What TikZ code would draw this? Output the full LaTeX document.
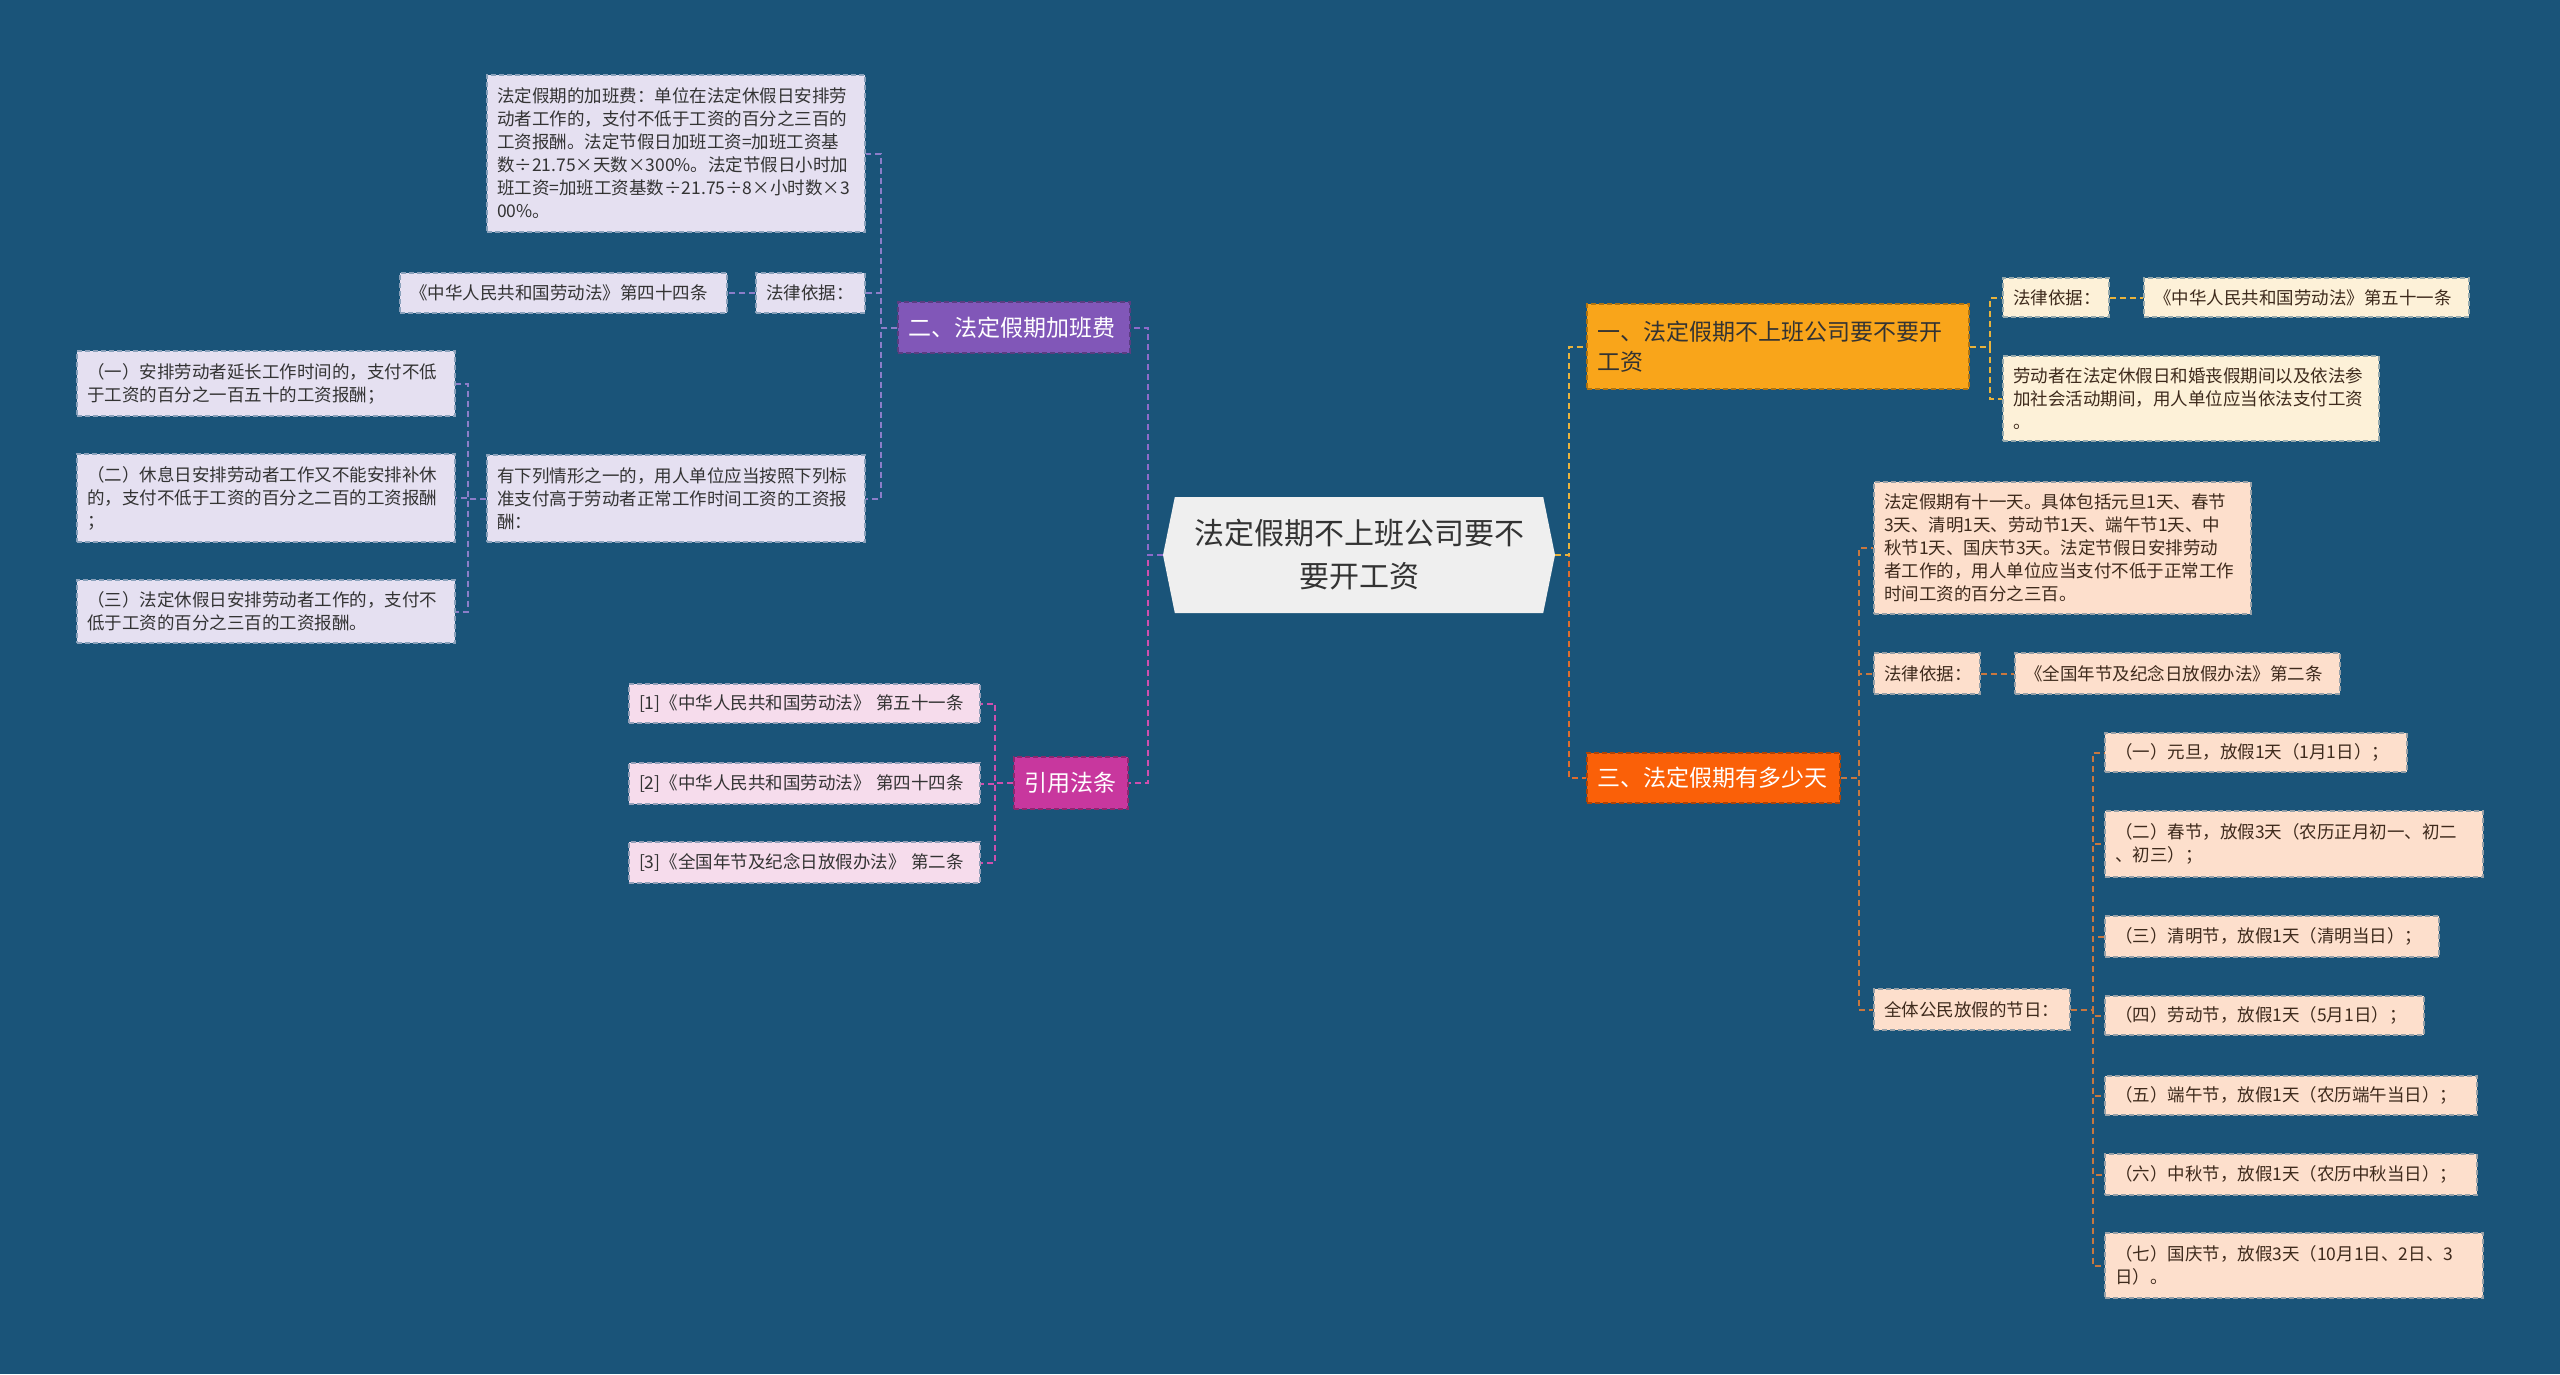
\documentclass[tikz,border=0pt]{standalone}
\usepackage{fontspec}
\setmainfont{Noto Sans CJK SC}
\usepackage{tikz}
\usetikzlibrary{shapes.symbols}
\usepackage{xcolor}
\definecolor{mmBg}{HTML}{1A5479}
\definecolor{mmLav}{HTML}{E5E0F1}
\definecolor{mmPink}{HTML}{F6DCEC}
\definecolor{mmCream}{HTML}{FDF1D8}
\definecolor{mmPeach}{HTML}{FDDFCC}
\definecolor{mmPurple}{HTML}{8157B8}
\definecolor{mmMagenta}{HTML}{C8379E}
\definecolor{mmOrange}{HTML}{F9A51A}
\definecolor{mmRed}{HTML}{FA6008}
\definecolor{mmCenter}{HTML}{EFEFEF}
\definecolor{mmInkL}{HTML}{333333}
\definecolor{mmInkR}{HTML}{3E2A1C}
\definecolor{mmLineP}{HTML}{8E6BCB}
\definecolor{mmLineL}{HTML}{8C7EC9}
\definecolor{mmLineM}{HTML}{CF4FAE}
\definecolor{mmLineY}{HTML}{E9B33C}
\definecolor{mmLineO}{HTML}{E06C2C}
\definecolor{mmLineB}{HTML}{C8773F}
\tikzset{
    % box styles
    leaf/.style={rectangle, draw=#1!55!mmBg, fill=#1, dashed, dash pattern=on 5pt off 3pt,
        line width=1.5pt, inner xsep=10pt, inner ysep=0pt, align=left,
        font=\fontsize{17.5}{23}\selectfont},
    lavleaf/.style={leaf=mmLav, text=mmInkL},
    pinkleaf/.style={leaf=mmPink, text=mmInkL},
    creamleaf/.style={leaf=mmCream, text=mmInkR},
    peachleaf/.style={leaf=mmPeach, text=mmInkR},
    branch/.style={rectangle, draw=#1!70!black, fill=#1, dashed, dash pattern=on 5pt off 3pt,
        line width=1.5pt, inner xsep=10pt, inner ysep=0pt, align=left, text=white,
        font=\fontsize{23}{30}\selectfont},
    % connector style
    link/.style={draw=#1, dashed, dash pattern=on 6pt off 4pt, line width=2pt}
}

\begin{document}
\begin{tikzpicture}[x=1pt,y=-1pt]
    \useasboundingbox (0,0) rectangle (2560,1374);
    \fill[mmBg] (0,0) rectangle (2560,1374);

    % Central topic
    \node[signal, signal to=west and east, signal pointer angle=157, fill=mmCenter,
        minimum width=392, minimum height=116, inner sep=0pt, align=center, text=mmInkL,
        font=\fontsize{30}{43}\selectfont] at (1359,555) (center) {法定假期不上班公司要不\\要开工资};

    % Left: overtime pay
    \node[branch=mmPurple, text width=212, minimum height=51] at (1014,327.5) (overpay) {二、法定假期加班费};
    \node[lavleaf, text width=358, minimum height=157] at (676,153.5) (overtime) {法定假期的加班费：单位在法定休假日安排劳\\动者工作的，支付不低于工资的百分之三百的\\工资报酬。法定节假日加班工资=加班工资基\\数÷21.75×天数×300\%。法定节假日小时加\\班工资=加班工资基数÷21.75÷8×小时数×3\\00\%。};
    \node[lavleaf, text width=89, minimum height=40] at (810.5,293) (basisL) {法律依据：};
    \node[lavleaf, text width=307, minimum height=40] at (563.5,293) (law44) {《中华人民共和国劳动法》第四十四条};
    \node[lavleaf, text width=358, minimum height=87] at (676,498.5) (cases) {有下列情形之一的，用人单位应当按照下列标\\准支付高于劳动者正常工作时间工资的工资报\\酬：};
    \node[lavleaf, text width=358, minimum height=65] at (266,383.5) (caseA) {（一）安排劳动者延长工作时间的，支付不低\\于工资的百分之一百五十的工资报酬；};
    \node[lavleaf, text width=358, minimum height=88] at (266,498) (caseB) {（二）休息日安排劳动者工作又不能安排补休\\的，支付不低于工资的百分之二百的工资报酬\\；};
    \node[lavleaf, text width=358, minimum height=63] at (266,611.5) (caseC) {（三）法定休假日安排劳动者工作的，支付不\\低于工资的百分之三百的工资报酬。};

    % Left: cited laws
    \node[branch=mmMagenta, text width=94, minimum height=52] at (1071,783) (refs) {引用法条};
    \node[pinkleaf, text width=331, minimum height=39] at (804.5,703.5) (refA) {[1]《中华人民共和国劳动法》 第五十一条};
    \node[pinkleaf, text width=331, minimum height=41] at (804.5,783.5) (refB) {[2]《中华人民共和国劳动法》 第四十四条};
    \node[pinkleaf, text width=331, minimum height=41] at (804.5,862.5) (refC) {[3]《全国年节及纪念日放假办法》 第二条};

    % Right: wages
    \node[branch=mmOrange, text=mmInkL, text width=362, minimum height=85] at (1778,346.5) (wages) {一、法定假期不上班公司要不要开\\工资};
    \node[creamleaf, text width=86, minimum height=39] at (2056,297.5) (basisR) {法律依据：};
    \node[creamleaf, text width=305, minimum height=39] at (2306.5,297.5) (law51) {《中华人民共和国劳动法》第五十一条};
    \node[creamleaf, text width=356, minimum height=85] at (2191,398.5) (wageNote) {劳动者在法定休假日和婚丧假期间以及依法参\\加社会活动期间，用人单位应当依法支付工资\\。};

    % Right: number of days
    \node[branch=mmRed, text width=233, minimum height=50] at (1713.5,778) (days) {三、法定假期有多少天};
    \node[peachleaf, text width=357, minimum height=132] at (2062.5,548) (daysNote) {法定假期有十一天。具体包括元旦1天、春节\\3天、清明1天、劳动节1天、端午节1天、中\\秋节1天、国庆节3天。法定节假日安排劳动\\者工作的，用人单位应当支付不低于正常工作\\时间工资的百分之三百。};
    \node[peachleaf, text width=86, minimum height=41] at (1927,673.5) (basisD) {法律依据：};
    \node[peachleaf, text width=305, minimum height=41] at (2177.5,673.5) (lawHol) {《全国年节及纪念日放假办法》第二条};
    \node[peachleaf, text width=176, minimum height=41] at (1972,1009.5) (holidays) {全体公民放假的节日：};
    \node[peachleaf, text width=282, minimum height=39] at (2256,752.5) (hol1) {（一）元旦，放假1天（1月1日）；};
    \node[peachleaf, text width=358, minimum height=66] at (2294,844) (hol2) {（二）春节，放假3天（农历正月初一、初二\\、初三）；};
    \node[peachleaf, text width=314, minimum height=41] at (2272,936.5) (hol3) {（三）清明节，放假1天（清明当日）；};
    \node[peachleaf, text width=299, minimum height=39] at (2264.5,1015.5) (hol4) {（四）劳动节，放假1天（5月1日）；};
    \node[peachleaf, text width=352, minimum height=39] at (2291,1095.5) (hol5) {（五）端午节，放假1天（农历端午当日）；};
    \node[peachleaf, text width=352, minimum height=41] at (2291,1174.5) (hol6) {（六）中秋节，放假1天（农历中秋当日）；};
    \node[peachleaf, text width=358, minimum height=65] at (2294,1265.5) (hol7) {（七）国庆节，放假3天（10月1日、2日、3\\日）。};

    % Connectors, left
    \draw[link=mmLineM] (center.west) -- ++(-15,0) |- (refs.east);
    \draw[link=mmLineP] (center.west) -- ++(-15,0) |- (overpay.east);
    \draw[link=mmLineL] (overpay.west) -- ++(-16,0) |- (overtime.east);
    \draw[link=mmLineL] (overpay.west) -- ++(-16,0) |- (basisL.east);
    \draw[link=mmLineL] (overpay.west) -- ++(-16,0) |- (cases.east);
    \draw[link=mmLineL] (basisL.west) -- (law44.east);
    \draw[link=mmLineL] (cases.west) -- ++(-18,0) |- (caseA.east);
    \draw[link=mmLineL] (cases.west) -- ++(-18,0) |- (caseB.east);
    \draw[link=mmLineL] (cases.west) -- ++(-18,0) |- (caseC.east);
    \draw[link=mmLineM] (refs.west) -- ++(-18,0) |- (refA.east);
    \draw[link=mmLineM] (refs.west) -- ++(-18,0) |- (refB.east);
    \draw[link=mmLineM] (refs.west) -- ++(-18,0) |- (refC.east);

    % Connectors, right
    \draw[link=mmLineO] (center.east) -- ++(14,0) |- (days.west);
    \draw[link=mmLineY] (center.east) -- ++(14,0) |- (wages.west);
    \draw[link=mmLineY] (wages.east) -- ++(20,0) |- (basisR.west);
    \draw[link=mmLineY] (wages.east) -- ++(20,0) |- (wageNote.west);
    \draw[link=mmLineY] (basisR.east) -- (law51.west);
    \draw[link=mmLineB] (days.east) -- ++(18,0) |- (daysNote.west);
    \draw[link=mmLineB] (days.east) -- ++(18,0) |- (basisD.west);
    \draw[link=mmLineB] (days.east) -- ++(18,0) |- (holidays.west);
    \draw[link=mmLineB] (basisD.east) -- (lawHol.west);
    \draw[link=mmLineB] (holidays.east) -- ++(22,0) |- (hol1.west);
    \draw[link=mmLineB] (holidays.east) -- ++(22,0) |- (hol2.west);
    \draw[link=mmLineB] (holidays.east) -- ++(22,0) |- (hol3.west);
    \draw[link=mmLineB] (holidays.east) -- ++(22,0) |- (hol4.west);
    \draw[link=mmLineB] (holidays.east) -- ++(22,0) |- (hol5.west);
    \draw[link=mmLineB] (holidays.east) -- ++(22,0) |- (hol6.west);
    \draw[link=mmLineB] (holidays.east) -- ++(22,0) |- (hol7.west);
\end{tikzpicture}
\end{document}
